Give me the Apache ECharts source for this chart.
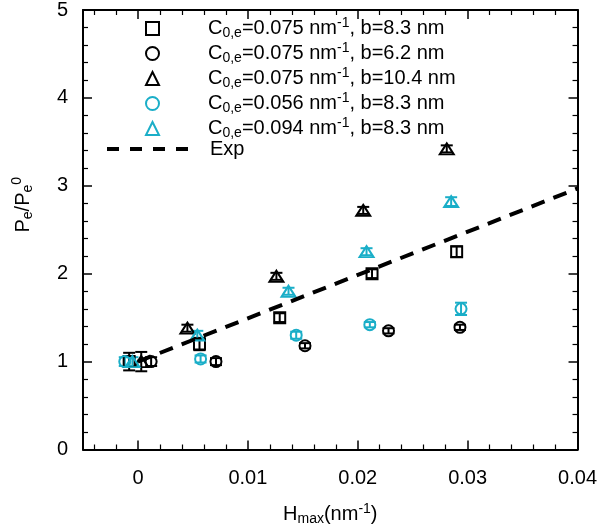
<!DOCTYPE html>
<html><head><meta charset="utf-8">
<script src="https://cdn.jsdelivr.net/npm/echarts@6/dist/echarts.min.js"></script>
<style>html,body{margin:0;padding:0;background:#fff}#c{width:600px;height:532px}</style>
</head><body><div id="c"></div>
<script>
// ---- data ----
const c0Vals = ['0.075', '0.075', '0.075', '0.056', '0.094'];
const bVals = ['8.3', '6.2', '10.4', '8.3', '8.3'];

// black squares: C0,e=0.075, b=8.3
const hSq = [-0.0008, 0.0056, 0.0129, 0.0213, 0.0290];
const pSq = [1.00, 1.20, 1.50, 2.00, 2.25];
const eSq = [0.10, 0.07, 0.05, 0.05, 0.06];
// black circles: C0,e=0.075, b=6.2
const hCi = [0.0012, 0.0071, 0.0152, 0.0228, 0.0293];
const pCi = [1.00, 1.00, 1.18, 1.35, 1.39];
const eCi = [0.05, 0.04, 0.03, 0.03, 0.03];
// black triangles: C0,e=0.075, b=10.4
const hTr = [0.0003, 0.0045, 0.0126, 0.0205, 0.0281];
const pTr = [1.00, 1.38, 1.97, 2.72, 3.42];
const eTr = [0.11, 0.04, 0.04, 0.04, 0.04];
// cyan circles: C0,e=0.056, b=8.3
const hCc = [-0.0012, 0.0057, 0.0144, 0.0211, 0.0294];
const pCc = [1.00, 1.03, 1.30, 1.42, 1.60];
const eCc = [0.05, 0.04, 0.04, 0.03, 0.07];
// cyan triangles: C0,e=0.094, b=8.3
const hCt = [-0.0005, 0.0054, 0.0137, 0.0208, 0.0285];
const pCt = [1.00, 1.30, 1.80, 2.25, 2.82];
const eCt = [0.05, 0.05, 0.04, 0.04, 0.05];
// experimental fit line
const hExp = [0.0, 0.04];
const pExp = [1.0, 2.97];

// ---- chart ----
const FONT = 'Liberation Sans';
const BLACK = '#000';
const CYAN = '#1aaec8';
const names = c0Vals.map((c, i) => 'C0,e=' + c + ', b=' + bVals[i]);

function zip3(a, b, c) { return a.map((v, i) => [v, b[i], c[i]]); }
function zip2(a, b) { return a.map((v, i) => [v, b[i]]); }

function errRender(color) {
  return function (params, api) {
    const x = api.value(0), y = api.value(1), e = api.value(2);
    const t = api.coord([x, y + e]);
    const b = api.coord([x, y - e]);
    const hw = 6;
    const st = { stroke: color, lineWidth: 2 };
    return {
      type: 'group', children: [
        { type: 'line', shape: { x1: t[0], y1: t[1], x2: b[0], y2: b[1] }, style: st },
        { type: 'line', shape: { x1: t[0] - hw, y1: t[1], x2: t[0] + hw, y2: t[1] }, style: st },
        { type: 'line', shape: { x1: b[0] - hw, y1: b[1], x2: b[0] + hw, y2: b[1] }, style: st }
      ]
    };
  };
}

const groups = [
  { h: hSq, p: pSq, e: eSq, sym: 'rect', size: 11, color: BLACK },
  { h: hCi, p: pCi, e: eCi, sym: 'circle', size: 11, color: BLACK },
  { h: hTr, p: pTr, e: eTr, sym: 'triangle', size: [14, 11], color: BLACK },
  { h: hCc, p: pCc, e: eCc, sym: 'circle', size: 11, color: CYAN },
  { h: hCt, p: pCt, e: eCt, sym: 'triangle', size: [14, 11], color: CYAN }
];

const series = [];
groups.forEach((g, i) => {
  series.push({
    type: 'custom', name: 'err' + i, xAxisIndex: 0, yAxisIndex: 0,
    renderItem: errRender(g.color), data: zip3(g.h, g.p, g.e), silent: true, z: 2
  });
  series.push({
    type: 'scatter', name: names[i], xAxisIndex: 0, yAxisIndex: 0,
    symbol: g.sym, symbolSize: g.size, data: zip2(g.h, g.p), z: 3,
    itemStyle: { color: 'rgba(0,0,0,0)', borderColor: g.color, borderWidth: 2, opacity: 1 }
  });
});
series.push({
  type: 'line', name: 'Exp', data: zip2(hExp, pExp), symbol: 'none', z: 4,
  itemStyle: { color: BLACK },
  lineStyle: { color: BLACK, width: 4, type: [14, 9.5] }
});

const subSt = { fontFamily: FONT, fontSize: 14, padding: [10, 0, 0, 0], color: BLACK, lineHeight: 24 };
const supSt = { fontFamily: FONT, fontSize: 14, padding: [0, 0, 11, 0], color: BLACK, lineHeight: 24 };

function xAxisCfg(pos, show) {
  return {
    type: 'value', position: pos, min: -0.005, max: 0.04, splitNumber: 5,
    minInterval: 0.01, maxInterval: 0.01,
    axisLine: { show: true, onZero: false, lineStyle: { color: BLACK, width: 2 } },
    axisTick: { show: true, inside: true, length: 9, lineStyle: { color: BLACK, width: 1.5 } },
    minorTick: { show: true, splitNumber: 5, length: 5, lineStyle: { color: BLACK, width: 1.2 } },
    splitLine: { show: false },
    axisLabel: { show: show, showMinLabel: false, margin: 19, fontFamily: FONT, fontSize: 20, color: BLACK },
    name: show ? 'H{sub|max}(nm{sup|-1})' : '', nameLocation: 'middle', nameGap: 53,
    nameTextStyle: { fontFamily: FONT, fontSize: 20, color: BLACK, rich: { sub: subSt, sup: supSt } }
  };
}
function yAxisCfg(pos, show) {
  return {
    type: 'value', position: pos, min: 0, max: 5, interval: 1,
    axisLine: { show: true, onZero: false, lineStyle: { color: BLACK, width: 2 } },
    axisTick: { show: true, inside: true, length: 9, lineStyle: { color: BLACK, width: 1.5 } },
    minorTick: { show: true, splitNumber: 5, length: 5, lineStyle: { color: BLACK, width: 1.2 } },
    splitLine: { show: false },
    axisLabel: { show: show, margin: 15, fontFamily: FONT, fontSize: 20, color: BLACK },
    name: show ? 'P{sub|e}/P{sub|e}{sup|0}' : '', nameLocation: 'middle', nameGap: 48,
    nameTextStyle: { fontFamily: FONT, fontSize: 20, color: BLACK, padding: [0, 0, 0, 50], rich: { sub: subSt, sup: supSt } }
  };
}

const option = {
  animation: false,
  backgroundColor: '#fff',
  textStyle: { fontFamily: FONT },
  grid: { left: 83, right: 22, top: 7, bottom: 79, containLabel: false },
  xAxis: [xAxisCfg('bottom', true), xAxisCfg('top', false)],
  yAxis: [yAxisCfg('left', true), yAxisCfg('right', false)],
  legend: [
    {
      data: names, orient: 'vertical', left: 140, top: 11, itemGap: 0,
      itemWidth: 13, itemHeight: 13, selectedMode: false, symbolKeepAspect: true,
      itemStyle: { borderWidth: 2 },
      formatter: function (name) {
        const i = names.indexOf(name);
        return 'C{sub|0,e}=' + c0Vals[i] + ' nm{sup|-1}, b=' + bVals[i] + ' nm';
      },
      textStyle: { fontFamily: FONT, fontSize: 20, color: BLACK, lineHeight: 24, padding: [0, 0, 0, 44], rich: { sub: subSt, sup: supSt } }
    },
    {
      data: ['Exp'], orient: 'vertical', left: 100, top: 132, itemWidth: 82, itemHeight: 12,
      selectedMode: false,
      itemStyle: { color: 'rgba(0,0,0,0)', borderWidth: 0, opacity: 0 },
      lineStyle: { color: BLACK, width: 4, type: [12, 11], opacity: 1 },
      textStyle: { fontFamily: FONT, fontSize: 20, color: BLACK, lineHeight: 24, padding: [0, 0, 0, 16] }
    }
  ],
  series: series
};

const chart = echarts.init(document.getElementById('c'), null, { renderer: 'canvas' });
chart.setOption(option);
</script>
</body></html>
